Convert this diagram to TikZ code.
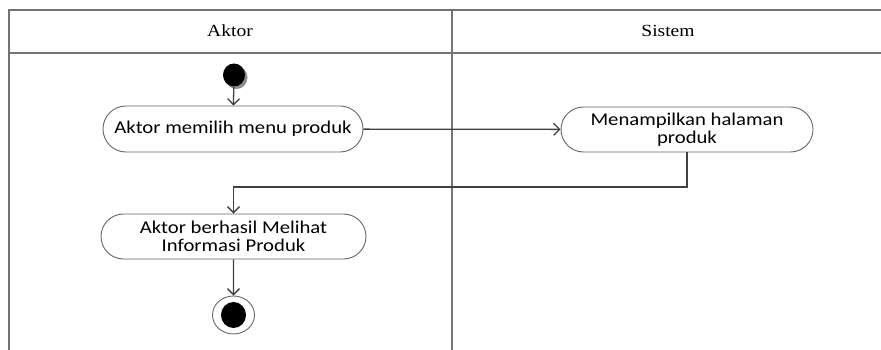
\documentclass[tikz,border=0pt]{standalone}
\usepackage{fontspec}
\setmainfont{Liberation Serif}[FakeStretch=1.15]
\newfontfamily\boxfont{Carlito}[FakeStretch=1.15]
\usetikzlibrary{shapes.misc,shapes.geometric,arrows.meta,shadows}
\begin{document}
\begin{tikzpicture}[x=1pt,y=-1pt,
  frame/.style={draw=black!55,line width=1.3pt},
  act/.style={rounded rectangle,draw=black!60,line width=0.9pt,align=center,
    font=\boxfont\fontsize{18}{18}\selectfont,inner sep=0pt},
  flow/.style={draw=black!75,line width=1.3pt,-{Straight Barb[length=6pt,width=12pt]}},
  hdr/.style={font=\fontsize{17}{19}\selectfont}]
\useasboundingbox (0,0) rectangle (881,350);
% swimlane frame
\draw[frame] (9,350) -- (9,10) -- (881,10);
\draw[frame] (9,53) -- (881,53);
\draw[frame] (452,10) -- (452,350);
\node[hdr] (hA) at (230,31) {Aktor};
\node[hdr] (hS) at (668,31) {Sistem};
% nodes
\node[ellipse,fill=black,minimum width=22pt,minimum height=23pt,inner sep=0pt,
  drop shadow={shadow xshift=2.5pt,shadow yshift=-2.5pt,fill=black!45,opacity=1}] (start) at (234,75) {};
\node[act,minimum width=260pt,minimum height=46pt] (a1) at (233,129) {Aktor memilih menu produk};
\node[act,minimum width=252pt,minimum height=45pt] (s1) at (687,129.5) {Menampilkan halaman\\produk};
\node[act,minimum width=265pt,minimum height=45pt] (a2) at (233.5,236.5) {Aktor berhasil Melihat\\Informasi Produk};
\node[ellipse,draw=black!60,line width=0.9pt,minimum width=42pt,minimum height=38pt,inner sep=0pt] (end) at (233.5,315) {};
\node[ellipse,fill=black,minimum width=25pt,minimum height=26pt,inner sep=0pt] (endin) at (end.center) {};
\coordinate (bend1) at (687,187);
\coordinate (bend2) at (233.5,187);
% connectors
\draw[flow] (start) -- (a1);
\draw[flow] (a1) -- (s1);
\draw[flow] (s1.south) -- (bend1) -- (bend2) -- (a2.north);
\draw[flow] (a2) -- (end);
\end{tikzpicture}
\end{document}
